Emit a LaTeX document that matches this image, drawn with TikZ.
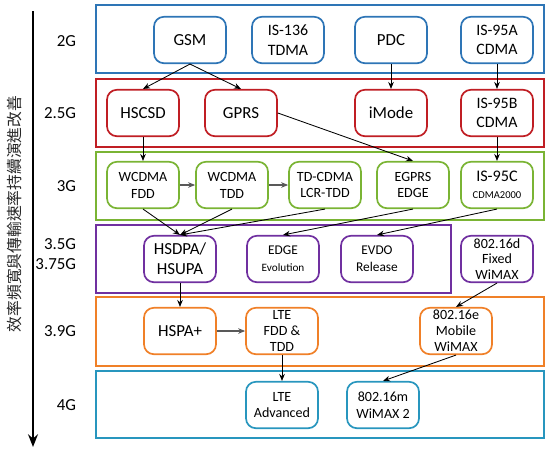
\documentclass[tikz,border=0pt]{standalone}
\usepackage{fontspec}
\setmainfont{Carlito}
\newfontfamily\cjkfont{Noto Sans CJK TC}
\usetikzlibrary{arrows.meta}
\definecolor{gblue}{RGB}{46,117,182}
\definecolor{gred}{RGB}{192,30,36}
\definecolor{ggreen}{RGB}{122,180,52}
\definecolor{gpurple}{RGB}{112,48,160}
\definecolor{gorange}{RGB}{240,128,40}
\definecolor{gteal}{RGB}{40,150,190}
\tikzset{
  gen/.style={draw=#1, line width=1.2pt, rounded corners=7pt, fill=white, text=black,
    minimum width=1.8cm, minimum height=1.16cm, inner sep=1pt, align=center,
    font=\fontsize{10}{12}\selectfont},
  big/.style={font=\fontsize{12}{14}\selectfont},
  mid/.style={font=\fontsize{11.3}{14}\selectfont},
  band/.style={line width=1.4pt},
  lbl/.style={anchor=east, font=\fontsize{12}{14}\selectfont},
  link/.style={-{Stealth[length=5pt,width=4pt]}, line width=0.6pt},
  hlink/.style={-{Stealth[length=5pt,width=4pt]}, line width=0.9pt, black!65},
}

\begin{document}
\begin{tikzpicture}[x=0.025cm, y=-0.025cm]
        \useasboundingbox (0,0) rectangle (550,450);

        % Bandes des generations
        \foreach \ya/\yb/\xb/\col in {5/73/544/gblue, 79/147/544/gred, 152/220/544/ggreen,
            225/293/451/gpurple, 297/366/544/gorange, 371/438/544/gteal}
            \draw[band, \col] (96,\ya) rectangle (\xb,\yb);

        % Noms des generations
        \foreach \y/\name in {41/2G, 113/2.5G, 186/3G, 331/3.9G, 405/4G}
            \node[lbl] at (81,\y) {\name};
        \node[lbl, align=right] (g35) at (81,254) {3.5G\\3.75G};

        % Axe vertical
        \draw[line width=1.8pt, -{Stealth[length=9pt,width=7pt]}] (33,11) -- (33,447);
        \node[rotate=90, font=\cjkfont\fontsize{11.2}{12}\selectfont, text=black!85] (axis) at (14,214)
            {效率頻寬與傳輸速率持續演進改善};

        % 2G
        \node[gen=gblue, big] (gsm) at (190,40) {GSM};
        \node[gen=gblue, mid] (is136) at (288,40) {IS-136\\TDMA};
        \node[gen=gblue, big] (pdc) at (391,40) {PDC};
        \node[gen=gblue, mid] (is95a) at (497,40) {IS-95A\\CDMA};

        % 2.5G
        \node[gen=gred, big] (hscsd) at (143,113) {HSCSD};
        \node[gen=gred, big] (gprs) at (241,113) {GPRS};
        \node[gen=gred, big] (imode) at (391,113) {iMode};
        \node[gen=gred, mid] (is95b) at (497,113) {IS-95B\\CDMA};

        % 3G
        \node[gen=ggreen] (wfdd) at (143,185) {WCDMA\\FDD};
        \node[gen=ggreen] (wtdd) at (232,185) {WCDMA\\TDD};
        \node[gen=ggreen] (tdcdma) at (325,185) {TD-CDMA\\LCR-TDD};
        \node[gen=ggreen] (egprs) at (413,185) {EGPRS\\EDGE};
        \node[gen=ggreen, font=\fontsize{11.5}{13}\selectfont] (is95c) at (497,185)
            {IS-95C\\[-1pt]{\fontsize{7.5}{9}\selectfont CDMA2000}};

        % 3.5G / 3.75G
        \node[gen=gpurple, big] (hsdpa) at (180,259) {HSDPA/\\HSUPA};
        \node[gen=gpurple, font=\fontsize{9.5}{12}\selectfont] (edgeevo) at (283,259)
            {EDGE\\{\fontsize{8}{10}\selectfont Evolution}};
        \node[gen=gpurple, font=\fontsize{9.5}{12}\selectfont] (evdo) at (377,259) {EVDO\\Release};
        \node[gen=gpurple, font=\fontsize{10}{11.3}\selectfont] (wmx16d) at (497,259) {802.16d\\Fixed\\WiMAX};

        % 3.9G
        \node[gen=gorange, big] (hspap) at (180,331) {HSPA+};
        \node[gen=gorange, font=\fontsize{10}{11.3}\selectfont] (ltefdd) at (282,331) {LTE\\FDD \&\\TDD};
        \node[gen=gorange, font=\fontsize{10}{11.3}\selectfont] (wmx16e) at (456,331) {802.16e\\Mobile\\WiMAX};

        % 4G
        \node[gen=gteal] (ltea) at (282,405) {LTE\\Advanced};
        \node[gen=gteal] (wmx16m) at (383,405) {802.16m\\WiMAX 2};

        % Liens entre generations
        \draw[link] (gsm.south) -- (hscsd.north);
        \draw[link] (gsm.south) -- (gprs.north);
        \draw[link] (pdc) -- (imode);
        \draw[link] (is95a) -- (is95b);
        \draw[link] (hscsd) -- (wfdd);
        \draw[link] (gprs.east) -- (egprs.north);
        \draw[link] (is95b) -- (is95c);
        \draw[link] (wfdd.south) -- (hsdpa.north);
        \draw[link] (wtdd.south) -- (hsdpa.north);
        \draw[link] (tdcdma.south) -- (hsdpa.north);
        \draw[link] (egprs.south) -- (edgeevo.north);
        \draw[link] (is95c.south) -- (evdo.north);
        \draw[link] (hsdpa) -- (hspap);
        \draw[link] (wmx16d.south) -- (wmx16e.north);
        \draw[link] (ltefdd) -- (ltea);
        \draw[link] (wmx16e.south) -- (wmx16m.north);

        % Liens dans une meme generation
        \draw[hlink] (wfdd) -- (wtdd);
        \draw[hlink] (wtdd) -- (tdcdma);
        \draw[hlink] (hspap) -- (ltefdd);
    \end{tikzpicture}
\end{document}
